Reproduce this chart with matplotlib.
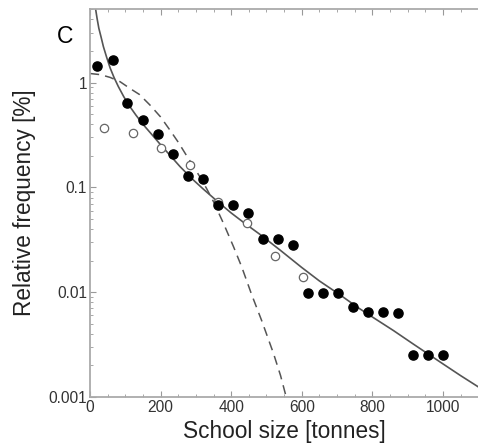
import matplotlib.pyplot as plt
from matplotlib.ticker import MultipleLocator, LogLocator, FixedLocator, FixedFormatter

# ── Data ────────────────────────────────────────────────────────
# filled circles
filled_x = [21, 64, 106, 149, 192, 234, 277, 320, 362, 405, 447, 490,
            533, 575, 618, 660, 703, 746, 788, 831, 874, 916, 959, 1001]
filled_y = [1.43, 1.63, 0.64, 0.44, 0.32, 0.21, 0.127, 0.12, 0.068, 0.068, 0.057, 0.032,
            0.032, 0.028, 0.0099, 0.0099, 0.0099, 0.0072, 0.0064, 0.0064, 0.0063, 0.0025, 0.0025, 0.0025]

# open circles
open_x = [41, 121, 202, 282, 363, 444, 524, 605]
open_y = [0.37, 0.33, 0.24, 0.165, 0.073, 0.046, 0.022, 0.0138]

# solid fitted curve
solid_x = [16, 20, 25, 31, 38, 47, 57, 68, 80, 96, 113, 130, 150, 175, 200, 228, 255,
           290, 320, 360, 400, 440, 482, 540, 600, 650, 709, 760, 800, 860, 916, 1000, 1050, 1100]
solid_y = [5.0, 4.1, 3.3, 2.75, 2.2, 1.75, 1.38, 1.12, 0.92, 0.73, 0.59, 0.49, 0.40, 0.32,
           0.255, 0.20, 0.158, 0.12, 0.097, 0.074, 0.057, 0.045, 0.0355, 0.025, 0.0172,
           0.0128, 0.0094, 0.0071, 0.0058, 0.0043, 0.0032, 0.00207, 0.0016, 0.00125]

# dashed fitted curve
dash_x = [0, 30, 57, 85, 113, 140, 170, 200, 227, 250, 274, 295, 312, 330, 350, 380,
          407, 430, 458, 487, 520, 540, 556]
dash_y = [1.22, 1.19, 1.12, 1.02, 0.88, 0.77, 0.61, 0.47, 0.35, 0.27, 0.20, 0.155, 0.125,
          0.098, 0.073, 0.044, 0.027, 0.0174, 0.0095, 0.0053, 0.0026, 0.0016, 0.001]

xticks = [0, 200, 400, 600, 800, 1000]
yticks = [0.001, 0.01, 0.1, 1]
ytick_labels = ["0.001", "0.01", "0.1", "1"]

# ── Figure ──────────────────────────────────────────────────────
plt.rcParams["font.family"] = ["Liberation Sans", "DejaVu Sans"]
fig = plt.figure(figsize=(4.78, 4.44), dpi=100)
ax = fig.add_axes([0.1883, 0.106, 0.812, 0.873])

ax.plot(solid_x, solid_y, color="#555555", lw=1.2, zorder=2)
ax.plot(dash_x, dash_y, color="#555555", lw=1.1, dashes=(6, 4), zorder=2)
ax.plot(open_x, open_y, "o", ms=6.0, mfc="white", mec="#666666", mew=0.9, zorder=3)
ax.plot(filled_x, filled_y, "o", ms=6.6, color="black", zorder=4)

ax.set_yscale("log")
ax.set_xlim(0, 1100)
ax.set_ylim(0.001, 5.0)

ax.xaxis.set_major_locator(FixedLocator(xticks))
ax.xaxis.set_minor_locator(MultipleLocator(50))
ax.yaxis.set_major_locator(FixedLocator(yticks))
ax.yaxis.set_major_formatter(FixedFormatter(ytick_labels))
ax.yaxis.set_minor_locator(LogLocator(base=10, subs=range(2, 10)))
ax.yaxis.set_minor_formatter(FixedFormatter([]))

for s in ["left", "bottom", "top"]:
    ax.spines[s].set_color("#aaaaaa")
    ax.spines[s].set_linewidth(1.3)
ax.spines["right"].set_visible(False)

ax.tick_params(which="both", direction="in", color="#999999", top=True, right=False,
               labelsize=11.2, labelcolor="#333333", pad=2)
ax.tick_params(which="major", length=4, width=0.8)
ax.tick_params(which="minor", length=2.5, width=0.6)

ax.set_xlabel("School size [tonnes]", fontsize=16.3, color="#222222", labelpad=4)
ax.set_ylabel("Relative frequency [%]", fontsize=16.3, color="#222222", labelpad=9)

fig.text(65 / 478, 1 - 36 / 444, "C", fontsize=16.5, ha="center", va="center", color="black")

plt.savefig("out.png", dpi=100)
